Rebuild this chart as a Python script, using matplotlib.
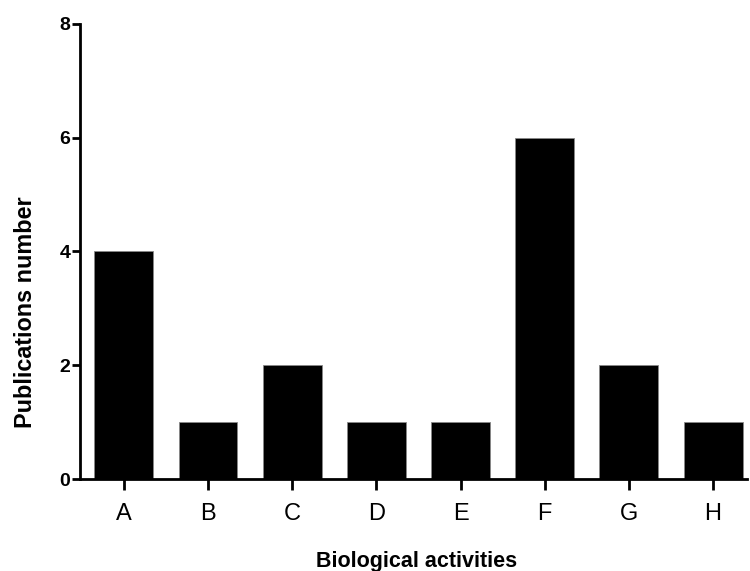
import matplotlib.pyplot as plt

# Data
categories = ['A', 'B', 'C', 'D', 'E', 'F', 'G', 'H']
publications = [4, 1, 2, 1, 1, 6, 2, 1]
y_ticks = [0, 2, 4, 6, 8]

plt.rcParams['font.family'] = ['Liberation Sans', 'DejaVu Sans']

fig = plt.figure(figsize=(7.5, 5.71), dpi=100)
ax = fig.add_axes([0.1067, 0.1611, 0.889, 0.797])

x = range(len(categories))
ax.bar(x, publications, width=0.70, color='black', edgecolor='#888888', linewidth=0.6)

ax.set_xlim(-0.52, 7.4)
ax.set_ylim(0, 8)
ax.set_xticks(list(x))
ax.set_xticklabels(categories, fontsize=17)
ax.set_yticks(y_ticks)
ax.set_yticklabels([str(t) for t in y_ticks], fontsize=14, fontweight='bold')

ax.spines['top'].set_visible(False)
ax.spines['right'].set_visible(False)
ax.spines['left'].set_linewidth(2)
ax.spines['bottom'].set_linewidth(2)
ax.tick_params(axis='x', direction='out', length=8, width=2, pad=9)
ax.tick_params(axis='y', direction='out', length=6, width=2, pad=1)

fig.text(0.034, 0.454, 'Publications number', rotation=90, ha='center', va='center',
         fontsize=16.8, fontweight='bold')
fig.text(0.555, 0.016, 'Biological activities', ha='center', va='center',
         fontsize=15.5, fontweight='bold')

fig.savefig('out.png', dpi=100)
